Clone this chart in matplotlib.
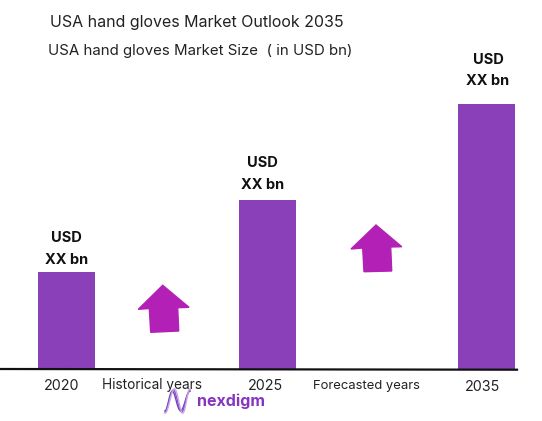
import numpy as np
import matplotlib
matplotlib.use("Agg")
import matplotlib.pyplot as plt
from matplotlib.patches import Polygon

plt.rcParams['font.family'] = ['Inter', 'DejaVu Sans']

# bar data
years = ['2020', '2025', '2035']
bar_centers = [66.5, 267, 486.5]
bar_values = [97, 169, 265]
value_top = ['USD', 'USD', 'USD']
value_bottom = ['XX bn', 'XX bn', 'XX bn']
value_x = [66.5, 262.7, 488]
value_top_y = [237.7, 163.3, 60]
value_bottom_y = [259.7, 185, 81]
year_x = [62, 265, 482]
year_y = [385.5, 386.5, 387]
period_labels = ['Historical years', 'Forecasted years']
period_x = [152.5, 366]
period_y = [385.5, 386]

arrow_hist = [(162.7, 285.3), (189, 307.3), (177.7, 307.7), (178.7, 331),
              (150.7, 332.3), (149.3, 308.5), (138.3, 309.3)]
arrow_fore = [(376, 225), (401.7, 246.7), (390.7, 247), (391.7, 271),
              (364, 271.7), (362.7, 248), (351, 249)]

W, H = 542, 421
baseline = 369

fig = plt.figure(figsize=(W / 100, H / 100), dpi=100, facecolor='white')
ax = fig.add_axes([0, 0, 1, 1])
ax.set_xlim(0, W)
ax.set_ylim(H, 0)
ax.axis('off')

# bars grow upward from the baseline (y axis is in image pixels)
ax.bar(bar_centers, [-v for v in bar_values], width=57, bottom=baseline,
       color='#8a40b8', zorder=2)
ax.plot([0, 517], [baseline, baseline + 0.7], color='#111111', lw=1.6, zorder=3)

for pts in [arrow_hist, arrow_fore]:
    ax.add_patch(Polygon(pts, closed=True, color='#b320b5', zorder=2))

ax.text(50, 22, 'USA hand gloves Market Outlook 2035', fontsize=11.5,
        color='#222222', va='center', ha='left')
ax.text(47.5, 51, 'USA hand gloves Market Size  ( in USD bn)', fontsize=10.8,
        color='#222222', va='center', ha='left')

for x, y1, y2, top, bottom in zip(value_x, value_top_y, value_bottom_y, value_top, value_bottom):
    ax.text(x, y1, top, fontsize=10.5, fontweight='bold', color='#111111',
            ha='center', va='center')
    ax.text(x, y2, bottom, fontsize=10.5, fontweight='bold', color='#111111',
            ha='center', va='center')

for x, y, lab in zip(year_x, year_y, years):
    ax.text(x, y, lab, fontsize=10.3, color='#222222', ha='center', va='center')
ax.text(period_x[0], period_y[0], period_labels[0], fontsize=9.8, color='#222222',
        ha='center', va='center')
ax.text(period_x[1], period_y[1], period_labels[1], fontsize=9.4, color='#222222',
        ha='center', va='center')

# nexdigm logo
t = np.linspace(0, 1, 80)
for shift, col in [(-1.2, '#6a3fc0'), (0, '#8a55c8'), (1.2, '#c9a6e6')]:
    lx = 165 + 25 * t + shift * np.sin(np.pi * t)
    ly = 401 + (11 + shift) * np.cos(3 * np.pi * t)
    ax.plot(lx, ly, color=col, lw=1.0, zorder=4)
ax.text(196.5, 401, 'nexdigm', fontsize=11.5, fontweight='bold', color='#8535c0',
        ha='left', va='center', zorder=4)

fig.savefig('out.png', dpi=100, facecolor='white')
